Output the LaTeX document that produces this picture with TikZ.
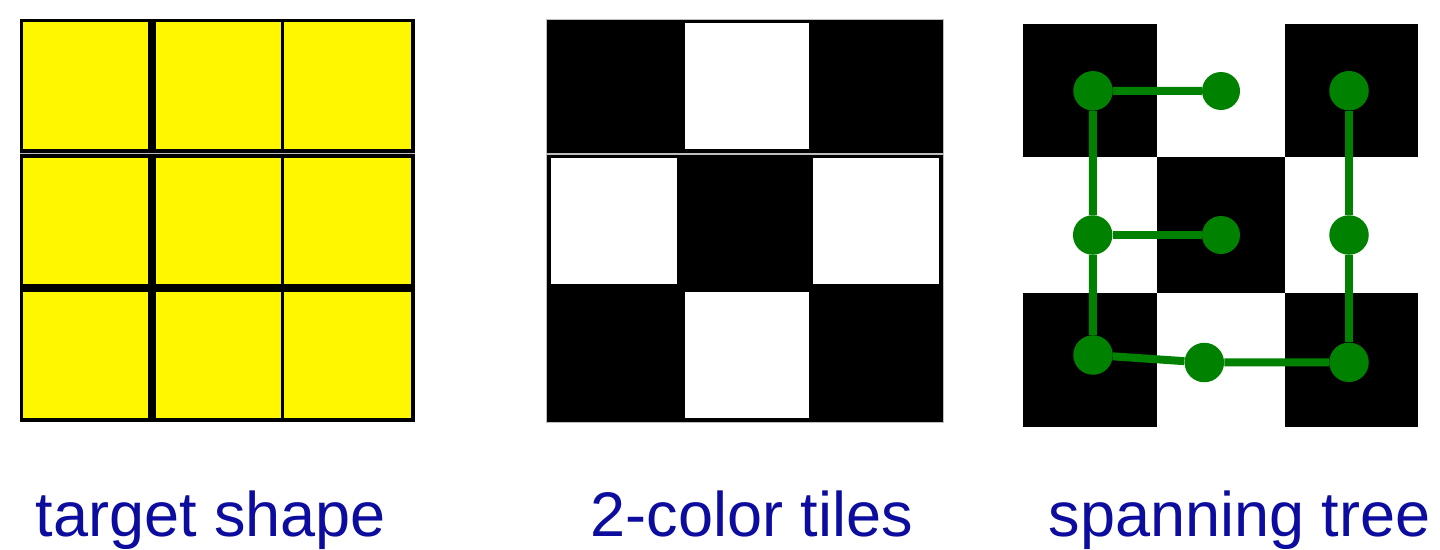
\documentclass[tikz,border=0pt]{standalone}
\usepackage{fontspec}
\setmainfont{Liberation Sans}
\definecolor{tileyellow}{RGB}{255,247,0}
\definecolor{treegreen}{RGB}{0,130,0}
\definecolor{labelblue}{RGB}{12,12,158}
\definecolor{seamgray}{RGB}{190,190,190}
\tikzset{
  yellowcell/.style={fill=tileyellow},
  blackcell/.style={fill=black},
  whitecell/.style={fill=white},
  seam/.style={draw=seamgray, line width=1.2pt},
  dot/.style={circle, fill=treegreen, inner sep=0pt, minimum size=39.5pt},
  smalldot/.style={dot, minimum size=38pt},
  edge/.style={draw=treegreen, line width=8pt},
  caption/.style={text=labelblue, anchor=base, inner sep=0pt, font=\fontsize{63}{72}\selectfont}
}
\begin{document}
\begin{tikzpicture}[x=1pt,y=-1pt]
\useasboundingbox[fill=white] (0,0) rectangle (1440,549);

% ---- target shape ----
\fill[blackcell] (19.5,19) rectangle (415,422);
\foreach \xa/\xb in {23/148,156/281,284/411}{
  \foreach \ya/\yb in {22/149,158/284,292/418}{
    \fill[yellowcell] (\xa,\ya) rectangle (\xb,\yb);
  }
}
\draw[seam] (19.5,153.5) -- (415,153.5);

% ---- 2-color tiles ----
\fill[blackcell] (546.7,19) rectangle (943.3,422);
\fill[whitecell] (685,22.7) rectangle (809,149);
\fill[whitecell] (550.7,158) rectangle (677,284);
\fill[whitecell] (812.7,158) rectangle (939.3,284);
\fill[whitecell] (685,291.7) rectangle (809,418.3);
\draw[seam] (546.7,154) -- (943.3,154);
\draw[draw=seamgray, line width=0.6pt] (546.7,19) rectangle (943.3,422);

% ---- spanning tree ----
\fill[blackcell] (1022.7,24) rectangle (1157,156.7);
\fill[blackcell] (1285.3,24) rectangle (1418.3,156.7);
\fill[blackcell] (1157,156.7) rectangle (1285.3,292.7);
\fill[blackcell] (1022.7,292.7) rectangle (1157,426.7);
\fill[blackcell] (1285.3,292.7) rectangle (1418.3,426.7);

\node[dot] (A) at (1093,90.8) {};
\node[smalldot] (B) at (1221,91) {};
\node[dot] (C) at (1349,90.7) {};
\node[dot] (D) at (1092.7,235) {};
\node[smalldot] (E) at (1221,235) {};
\node[dot] (F) at (1349,235) {};
\node[dot] (G) at (1093,355) {};
\node[dot] (H) at (1204.3,362.5) {};
\node[dot] (I) at (1349,362.3) {};

\draw[edge] (A) -- (B);
\draw[edge] (A) -- (D);
\draw[edge] (D) -- (E);
\draw[edge] (D) -- (G);
\draw[edge] (G) -- (H);
\draw[edge] (H) -- (I);
\draw[edge] (C) -- (F);
\draw[edge] (F) -- (I);

% ---- captions ----
\node[caption] (t1) at (211,536) {target shape};
\node[caption] (t2) at (752,536) {2-color tiles};
\node[caption] (t3) at (1239.5,536) {spanning tree};
\end{tikzpicture}
\end{document}
